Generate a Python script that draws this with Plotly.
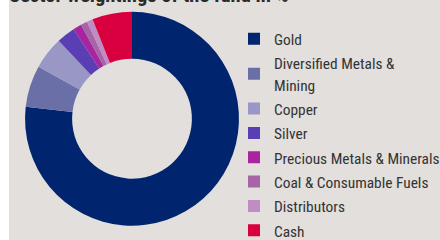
import plotly.graph_objects as go

labels = ["Gold", "Diversified Metals &<br>Mining", "Copper", "Silver",
          "Precious Metals & Minerals", "Coal & Consumable Fuels",
          "Distributors", "Cash"]
values = [76.7, 6.3, 4.9, 2.8, 1.3, 1.0, 0.9, 6.0]
colors = ["#00256e", "#6b6fa8", "#9897c6", "#5a3fb4",
          "#a7259f", "#a565a7", "#c08cc4", "#d9003f"]
title_text = "Sector weightings of the fund in %"

FONT = "Roboto Condensed, DejaVu Sans Condensed, sans-serif"
BG = "#e2dfdc"
LEGEND_TEXT_PX = 15.4


def small(t):
    return "<br>".join('<span style="font-size:%.1fpx">%s</span>' % (LEGEND_TEXT_PX, p)
                       for p in t.split("<br>"))


legend_labels = [small(t) for t in labels]
plain = [t.replace("<br>", " ") for t in labels]

fig = go.Figure(go.Pie(
    labels=legend_labels, values=values, customdata=plain,
    hole=0.56, sort=False, direction="clockwise",
    rotation=0, marker=dict(colors=colors, line=dict(width=0)),
    textinfo="none", hovertemplate="%{customdata}: %{value}%<extra></extra>",
    domain=dict(x=[25/440, 239/440], y=[0.0596, 0.951]),
))

fig.update_layout(
    width=440, height=240,
    margin=dict(l=0, r=0, t=0, b=0, autoexpand=False),
    paper_bgcolor=BG,
    showlegend=True,
    legend=dict(x=234/440, xanchor="left", y=1 - 21.5/240, yanchor="top",
                font=dict(family=FONT, size=16.4, color="#333333"),
                bgcolor="rgba(0,0,0,0)", itemclick=False),
    title=dict(text="<b>" + title_text + "</b>", x=9/440, xanchor="left",
               y=1 - 1.5/240, yref="container", yanchor="bottom",
               font=dict(family=FONT, size=20.5, color="#2b2b2b")),
    shapes=[dict(type="rect", xref="paper", yref="paper", x0=0, x1=9/440,
                 y0=0, y1=1, fillcolor="white", line=dict(width=0), layer="below")],
)

fig.write_html("out.html", config={"displayModeBar": False},
               post_script="document.body.style.margin='0';document.body.style.overflow='hidden';")
